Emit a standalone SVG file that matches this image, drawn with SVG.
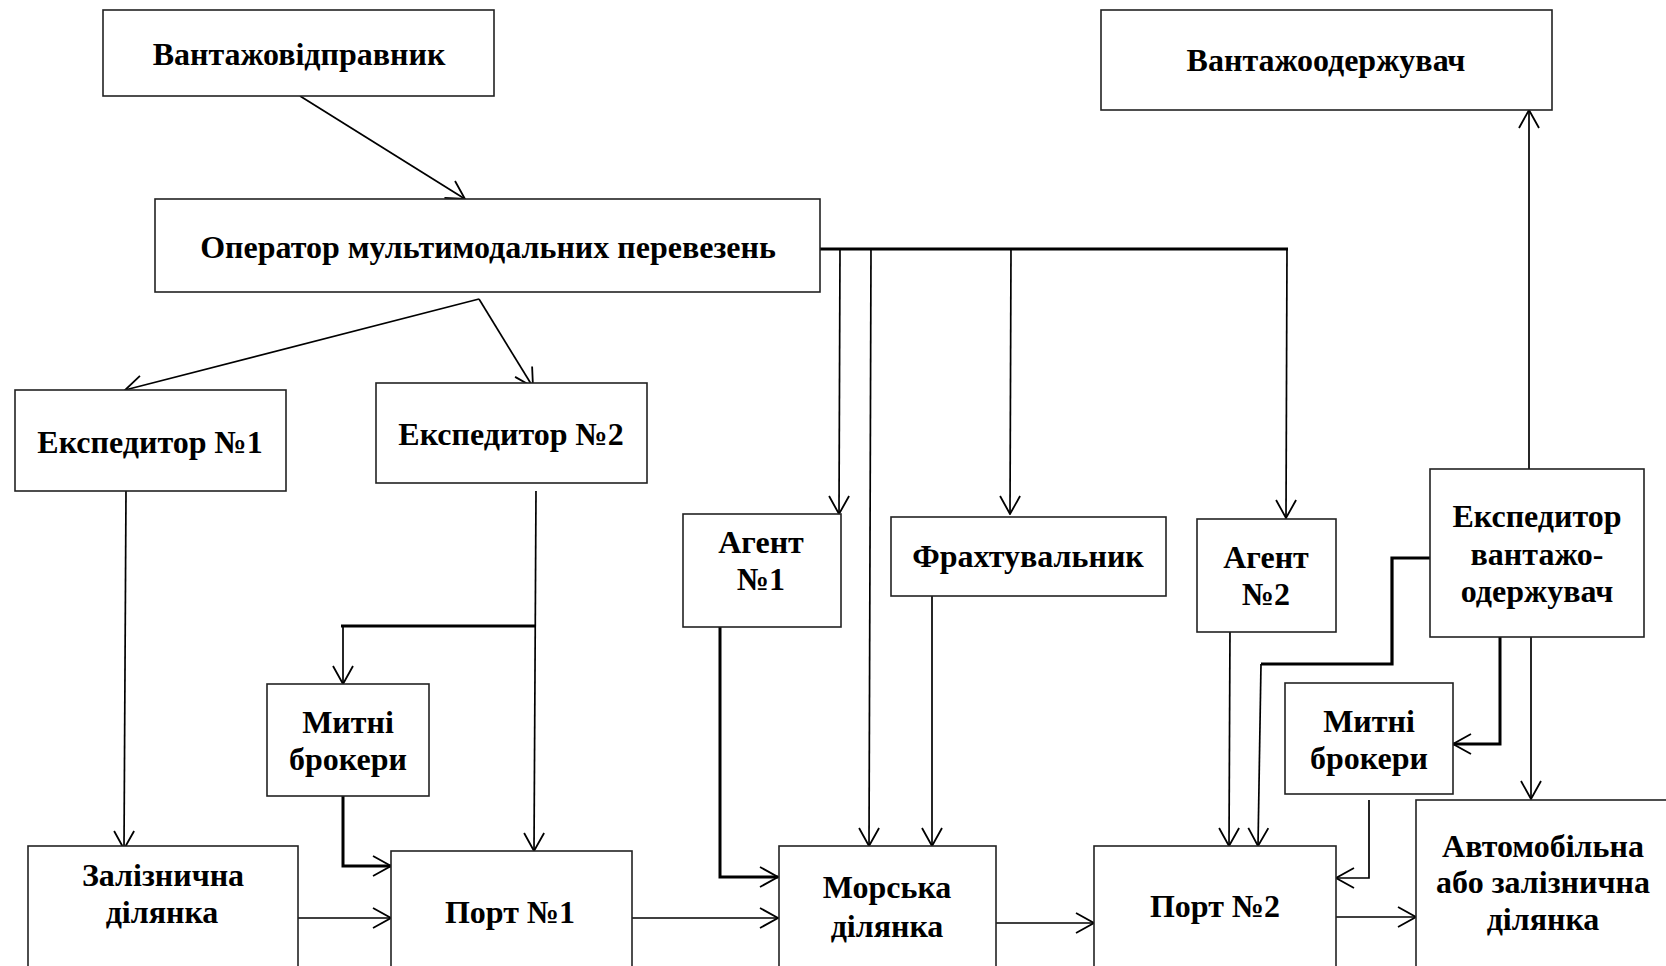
<svg xmlns="http://www.w3.org/2000/svg" width="1666" height="966" viewBox="0 0 1666 966">
<style>
.box{fill:#fff;stroke:#222;stroke-width:1.6}
.t{font-family:"Liberation Serif","Times New Roman",serif;font-weight:bold;font-size:32px;fill:#000;text-anchor:middle}
.c{fill:none;stroke:#000;stroke-width:1.7;marker-end:url(#ah)}
.k{fill:none;stroke:#000;stroke-width:3.2}
.kc{fill:none;stroke:#000;stroke-width:3;marker-end:url(#ah)}
</style>
<defs>
<marker id="ah" markerUnits="userSpaceOnUse" viewBox="0 0 20 22" refX="19" refY="11" markerWidth="20" markerHeight="22" orient="auto">
<path d="M1,1 L19,11 L1,21" fill="none" stroke="#000" stroke-width="1.8"/>
</marker>
</defs>
<rect width="1666" height="966" fill="#fff"/>
<g id="connectors">
<line class="c" x1="300" y1="96" x2="465" y2="199"/>
<line class="c" x1="479" y1="299" x2="125" y2="390"/>
<line class="c" x1="479" y1="299" x2="533" y2="387"/>
<line class="k" x1="820" y1="249" x2="1288" y2="249"/>
<line class="c" x1="840" y1="249" x2="839" y2="514"/>
<line class="c" x1="871" y1="249" x2="869" y2="846"/>
<line class="c" x1="1011" y1="249" x2="1010" y2="514"/>
<line class="c" x1="1287" y1="249" x2="1286" y2="518"/>
<line class="c" x1="126" y1="491" x2="124" y2="849"/>
<line class="c" x1="536" y1="491" x2="534" y2="851"/>
<line class="k" x1="341" y1="626" x2="536" y2="626"/>
<line class="c" x1="343" y1="626" x2="343" y2="684"/>
<polyline class="kc" points="343,794 343,866 391,866"/>
<line class="c" x1="298" y1="918" x2="391" y2="918"/>
<line class="c" x1="632" y1="918" x2="778" y2="918"/>
<polyline class="kc" points="720,622 720,877 778,877"/>
<line class="c" x1="932" y1="596" x2="932" y2="846"/>
<line class="c" x1="995" y1="923" x2="1094" y2="923"/>
<line class="c" x1="1230" y1="628" x2="1229" y2="846"/>
<polyline class="k" points="1430,558 1392,558 1392,664 1261,664"/>
<line class="c" x1="1261" y1="664" x2="1258" y2="846"/>
<line class="c" x1="1529" y1="469" x2="1529" y2="110"/>
<polyline class="kc" points="1500,637 1500,744 1453,744"/>
<line class="c" x1="1531" y1="637" x2="1531" y2="799"/>
<polyline class="c" points="1369,800 1369,878 1336,878"/>
<line class="c" x1="1336" y1="917" x2="1416" y2="917"/>
</g>
<g id="shipper"><rect class="box" x="103" y="10" width="391" height="86"/><text class="t" x="299" y="65">Вантажовідправник</text></g>
<g id="operator"><rect class="box" x="155" y="199" width="665" height="93"/><text class="t" x="488" y="258">Оператор мультимодальних перевезень</text></g>
<g id="consignee"><rect class="box" x="1101" y="10" width="451" height="100"/><text class="t" x="1326" y="71">Вантажоодержувач</text></g>
<g id="forwarder1"><rect class="box" x="15" y="390" width="271" height="101"/><text class="t" x="150" y="453">Експедитор №1</text></g>
<g id="forwarder2"><rect class="box" x="376" y="383" width="271" height="100"/><text class="t" x="511" y="445">Експедитор №2</text></g>
<g id="agent1"><rect class="box" x="683" y="514" width="158" height="113"/><text class="t" x="761" y="553">Агент</text><text class="t" x="761" y="590">№1</text></g>
<g id="charterer"><rect class="box" x="891" y="517" width="275" height="79"/><text class="t" x="1028" y="567">Фрахтувальник</text></g>
<g id="agent2"><rect class="box" x="1197" y="519" width="139" height="113"/><text class="t" x="1266" y="568">Агент</text><text class="t" x="1266" y="605">№2</text></g>
<g id="consignee-forwarder"><rect class="box" x="1430" y="469" width="214" height="168"/><text class="t" x="1537" y="527">Експедитор</text><text class="t" x="1537" y="565">вантажо-</text><text class="t" x="1537" y="602">одержувач</text></g>
<g id="customs1"><rect class="box" x="267" y="684" width="162" height="112"/><text class="t" x="348" y="733">Митні</text><text class="t" x="348" y="770">брокери</text></g>
<g id="customs2"><rect class="box" x="1285" y="683" width="168" height="111"/><text class="t" x="1369" y="732">Митні</text><text class="t" x="1369" y="769">брокери</text></g>
<g id="rail"><rect class="box" x="28" y="846" width="270" height="130"/><text class="t" x="163" y="886">Залізнична</text><text class="t" x="162" y="923">ділянка</text></g>
<g id="port1"><rect class="box" x="391" y="851" width="241" height="125"/><text class="t" x="510" y="923">Порт №1</text></g>
<g id="sea"><rect class="box" x="779" y="846" width="217" height="130"/><text class="t" x="887" y="898">Морська</text><text class="t" x="887" y="937">ділянка</text></g>
<g id="port2"><rect class="box" x="1094" y="846" width="242" height="130"/><text class="t" x="1215" y="917">Порт №2</text></g>
<g id="road-rail"><rect class="box" x="1416" y="800" width="270" height="180"/><text class="t" x="1543" y="857">Автомобільна</text><text class="t" x="1543" y="893">або залізнична</text><text class="t" x="1543" y="930">ділянка</text></g>
</svg>
